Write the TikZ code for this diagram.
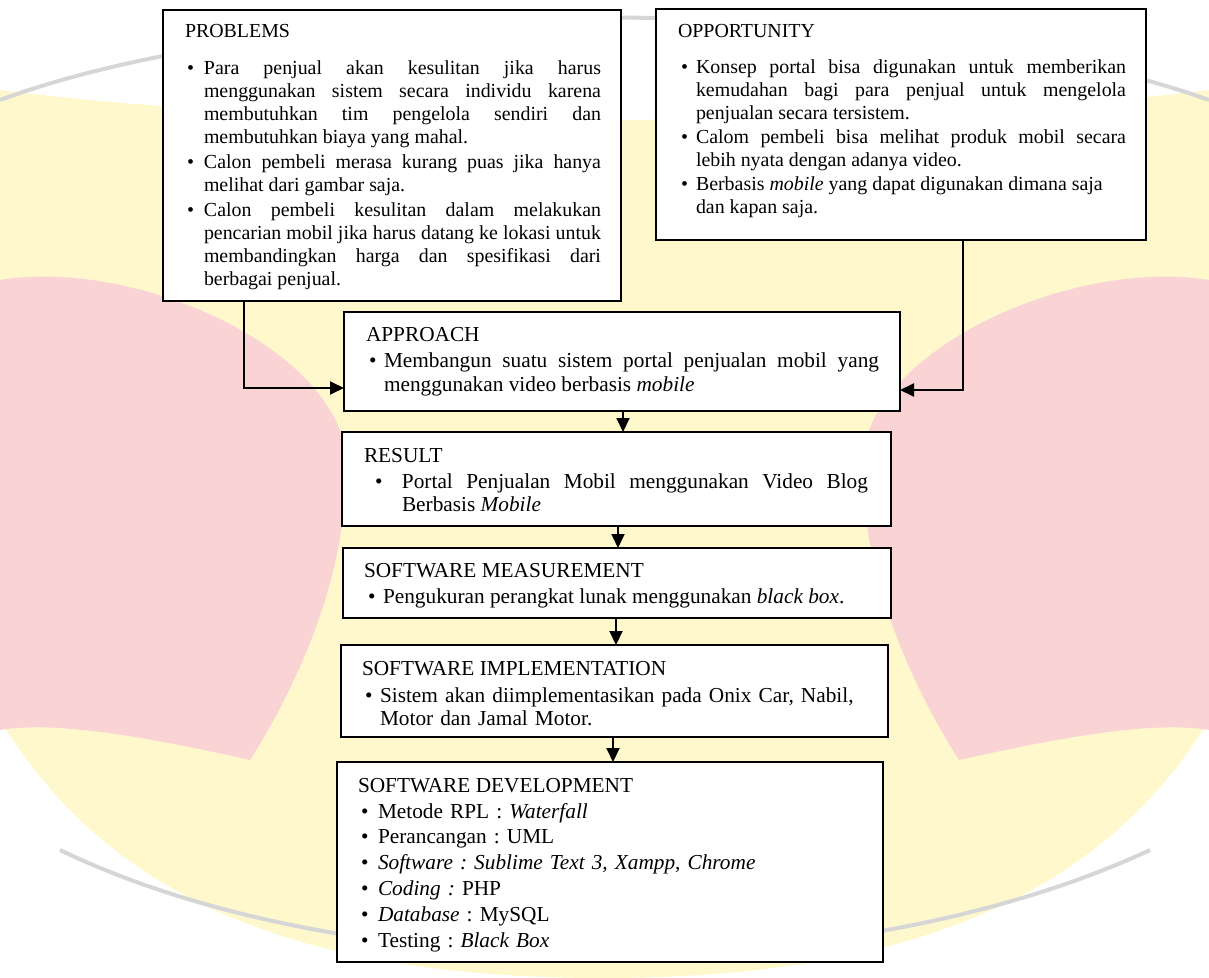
\documentclass[tikz,border=0pt]{standalone}
\usepackage{fontspec}
\setmainfont{Liberation Serif}
\usetikzlibrary{arrows.meta,calc}
\frenchspacing
\definecolor{wmyellow}{RGB}{255,248,205}
\definecolor{wmpink}{RGB}{250,212,212}
\definecolor{wmgray}{RGB}{214,214,214}
\tikzset{
  box/.style={draw=black, line width=1.4pt, fill=white, inner sep=0pt, outer sep=0pt, anchor=north west},
  upper/.style={font=\fontsize{9.95pt}{11.4pt}\selectfont},
  lower/.style={font=\fontsize{10.65pt}{11.5pt}\selectfont},
  txt/.style={anchor=base west, inner sep=0pt, outer sep=0pt},
  jtxt/.style={txt, align=justify},
  conn/.style={line width=1pt, -{Triangle[length=7pt,width=6.5pt]}},
}
\newcommand{\bul}[1]{\noindent\llap{\textbullet\hspace{#1}}}
\newcommand{\jst}{\tolerance=10000\hbadness=10000\emergencystretch=0pt}
\begin{document}
\begin{tikzpicture}[x=0.5pt,y=-0.5pt]
\useasboundingbox (0,0) rectangle (1209,978);

% faint watermark background
\fill[wmyellow] (0,90) .. controls (300,130) and (900,130) .. (1209,90) -- (1209,720)
  .. controls (1100,900) and (900,978) .. (604,978) .. controls (300,978) and (110,900) .. (0,720) -- cycle;
\fill[wmpink] (0,280) .. controls (120,260) and (300,330) .. (340,430) .. controls (360,520) and (320,650) .. (250,760)
  .. controls (160,740) and (60,720) .. (0,730) -- cycle;
\fill[wmpink] (1209,280) .. controls (1089,260) and (909,330) .. (869,430) .. controls (849,520) and (889,650) .. (959,760)
  .. controls (1049,740) and (1149,720) .. (1209,730) -- cycle;
\draw[wmgray, line width=2pt] (0,100) .. controls (300,-10) and (900,-10) .. (1209,100);
\draw[wmgray, line width=2pt] (60,850) .. controls (350,990) and (850,990) .. (1150,850);

% boxes
\node[box, minimum width=229pt, minimum height=145.5pt] (prob) at (163,10) {};
\node[box, minimum width=245pt, minimum height=115.5pt] (opp) at (656,9) {};
\node[box, minimum width=278pt, minimum height=49.5pt] (appr) at (344,312) {};
\node[box, minimum width=274.5pt, minimum height=47pt] (res) at (342,432) {};
\node[box, minimum width=274pt, minimum height=35pt] (meas) at (343,548) {};
\node[box, minimum width=273.5pt, minimum height=46pt] (impl) at (341,645) {};
\node[box, minimum width=273pt, minimum height=100pt] (dev) at (337,762) {};

% PROBLEMS
\node[txt,upper] (probH) at (185,38) {PROBLEMS};
\node[jtxt,upper,text width=198.5pt] (probA) at (204,75) {\jst\bul{5pt}Para penjual akan kesulitan jika harus\linebreak menggunakan sistem secara individu karena\linebreak membutuhkan tim pengelola sendiri dan\linebreak membutuhkan biaya yang mahal.};
\node[jtxt,upper,text width=198.5pt] (probB) at (204,169) {\jst\bul{5pt}Calon pembeli merasa kurang puas jika hanya\linebreak melihat dari gambar saja.};
\node[jtxt,upper,text width=198.5pt] (probC) at (204,217) {\jst\bul{5pt}Calon pembeli kesulitan dalam melakukan\linebreak pencarian mobil jika harus datang ke lokasi untuk\linebreak membandingkan harga dan spesifikasi dari\linebreak berbagai penjual.};

% OPPORTUNITY
\node[txt,upper] (oppH) at (678,37.5) {OPPORTUNITY};
\node[jtxt,upper,text width=215pt] (oppA) at (696,74) {\jst\bul{4pt}Konsep portal bisa digunakan untuk memberikan\linebreak kemudahan bagi para penjual untuk mengelola\linebreak penjualan secara tersistem.};
\node[jtxt,upper,text width=215pt] (oppB) at (696,144) {\jst\bul{4pt}Calom pembeli bisa melihat produk mobil secara\linebreak lebih nyata dengan adanya video.};
\node[jtxt,upper,text width=215pt] (oppC) at (696,191) {\jst\bul{4pt}Berbasis \textit{mobile} yang dapat digunakan dimana saja\newline dan kapan saja.};

% APPROACH
\node[txt,lower] (apprH) at (366,342) {APPROACH};
\node[jtxt,text width=247.5pt,font=\fontsize{10.65pt}{12.5pt}\selectfont] (apprA) at (384,367) {\jst\bul{3.75pt}Membangun suatu sistem portal penjualan mobil yang\linebreak menggunakan video berbasis \textit{mobile}};

% RESULT
\node[txt,lower] (resH) at (364,462) {RESULT};
\node[jtxt,lower,text width=233pt] (resA) at (402,488) {\jst\bul{9.75pt}Portal Penjualan Mobil menggunakan Video Blog\linebreak Berbasis \textit{Mobile}};

% SOFTWARE MEASUREMENT
\node[txt,lower] (measH) at (364,577) {SOFTWARE MEASUREMENT};
\node[txt,lower] (measA) at (383,603) {\bul{3.75pt}Pengukuran perangkat lunak menggunakan \textit{black box}.};

% SOFTWARE IMPLEMENTATION
\node[txt,lower] (implH) at (362,675) {SOFTWARE IMPLEMENTATION};
\node[txt,lower,align=left,text width=254pt] (implA) at (380,702) {\bul{3.75pt}Sistem akan diimplementasikan pada Onix Car, Nabil,\\ Motor dan Jamal Motor.};

% SOFTWARE DEVELOPMENT
\node[txt,lower] (devH) at (358,792) {SOFTWARE DEVELOPMENT};
\node[txt,text width=240pt,font=\fontsize{10.65pt}{12.9pt}\selectfont] (devA) at (378,818) {\bul{4.75pt}Metode RPL : \textit{Waterfall}\par
\bul{4.75pt}Perancangan : UML\par
\bul{4.75pt}\textit{Software : Sublime Text 3, Xampp, Chrome}\par
\bul{4.75pt}\textit{Coding :} PHP\par
\bul{4.75pt}\textit{Database} : MySQL\par
\bul{4.75pt}Testing : \textit{Black Box}};

% connectors
\draw[conn] ($(prob.south west)+(81,0)$) |- ($(appr.west)+(0,26.5)$);
\draw[conn] ($(opp.south west)+(307,0)$) |- ($(appr.east)+(0,28.5)$);
\coordinate (c1) at ($(appr.south west)+(279,0)$);
\coordinate (c2) at ($(res.south west)+(276,0)$);
\coordinate (c3) at ($(meas.south west)+(273,0)$);
\coordinate (c4) at ($(impl.south west)+(272,0)$);
\draw[conn] (c1) -- (c1 |- res.north);
\draw[conn] (c2) -- (c2 |- meas.north);
\draw[conn] (c3) -- (c3 |- impl.north);
\draw[conn] (c4) -- (c4 |- dev.north);
\end{tikzpicture}
\end{document}
